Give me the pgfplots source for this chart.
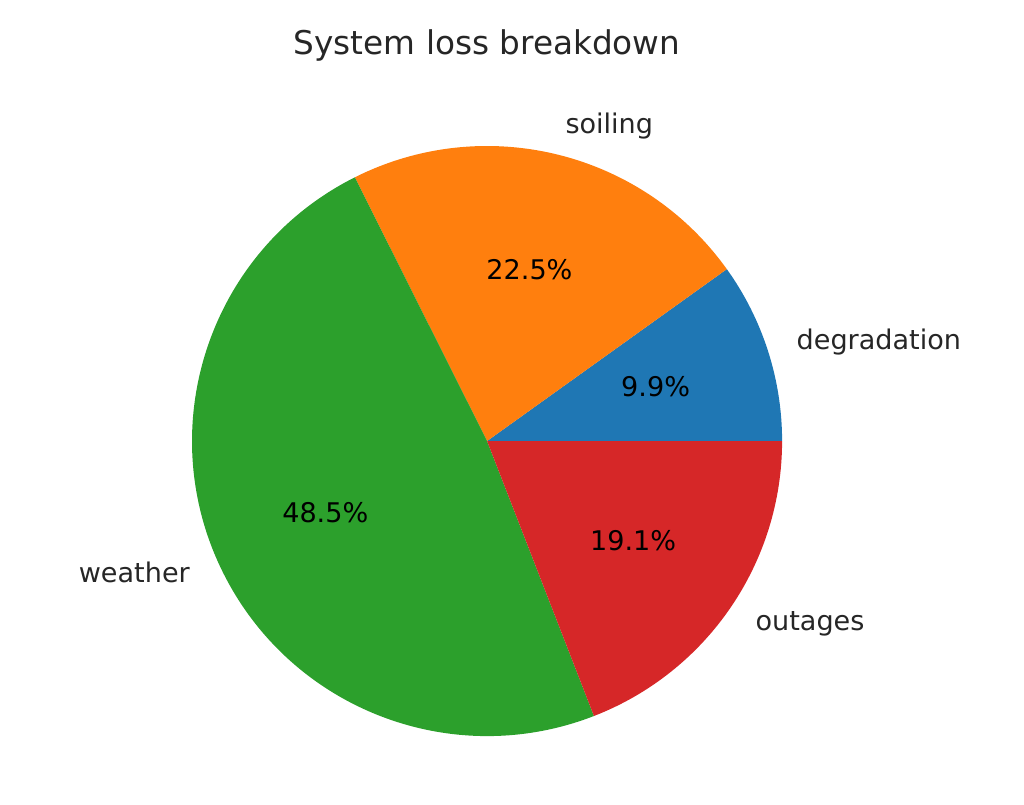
\documentclass[border=0pt]{standalone}
\usepackage{pgfplots}
\pgfplotsset{compat=1.18}
\usepackage{pgfplotstable}
\usepackage{fontspec}
\setmainfont{DejaVu Sans}

\definecolor{c1}{HTML}{1F77B4}
\definecolor{c2}{HTML}{FF7F0E}
\definecolor{c3}{HTML}{2CA02C}
\definecolor{c4}{HTML}{D62728}

% share of each loss (percent)
\pgfplotstableread{
label       value color
degradation 9.9   c1
soiling     22.5  c2
weather     48.5  c3
outages     19.1  c4
}\losstable

% build the wedges from the table: start at 0 deg, counter clockwise
\def\slices{}
\def\acc{0}
\pgfplotsforeachungrouped \i in {0,...,3}{%
  \pgfplotstablegetelem{\i}{value}\of\losstable \let\v\pgfplotsretval
  \pgfplotstablegetelem{\i}{label}\of\losstable \let\lab\pgfplotsretval
  \pgfplotstablegetelem{\i}{color}\of\losstable \let\col\pgfplotsretval
  \pgfmathsetmacro\a{\acc}%
  \pgfmathsetmacro\b{\acc+3.6*\v}%
  \pgfmathsetmacro\m{(\a+\b)/2}%
  \pgfmathsetmacro\sx{cos(\a)}%
  \pgfmathsetmacro\sy{sin(\a)}%
  \pgfmathsetmacro\lx{1.1*cos(\m)}%
  \pgfmathsetmacro\ly{1.1*sin(\m)}%
  \pgfmathsetmacro\px{0.6*cos(\m)}%
  \pgfmathsetmacro\py{0.6*sin(\m)}%
  \ifdim\lx pt>0pt \def\anc{west}\else\def\anc{east}\fi
  \xdef\slices{\expandafter\unexpanded\expandafter{\slices}%
    \noexpand\fill[\col] (axis cs:0,0) -- (axis cs:\sx,\sy)
      arc[start angle=\a, end angle=\b, radius=1] -- cycle;
    \noexpand\node[anchor=\anc, inner sep=0pt, text=black!85] at (axis cs:\lx,\ly) {\lab};
    \noexpand\node[inner sep=0pt] at (axis cs:\px,\py) {\v\noexpand\%};
  }%
  \global\let\acc\b
}

\begin{document}
\begin{tikzpicture}
\begin{axis}[
    x=2.95cm, y=2.95cm,
    xmin=-1.651, xmax=1.820,
    ymin=-1.231, ymax=1.495,
    hide axis,
    clip=false,
    font=\fontsize{7.7}{9}\selectfont,
]
    % keep the whole figure area as the page
    \path (rel axis cs:0,0) rectangle (rel axis cs:1,1);
    \slices
    \node[font=\fontsize{9.3}{11}\selectfont, text=black!85] at (axis cs:0,1.342) {System loss breakdown};
\end{axis}
\end{tikzpicture}
\end{document}
